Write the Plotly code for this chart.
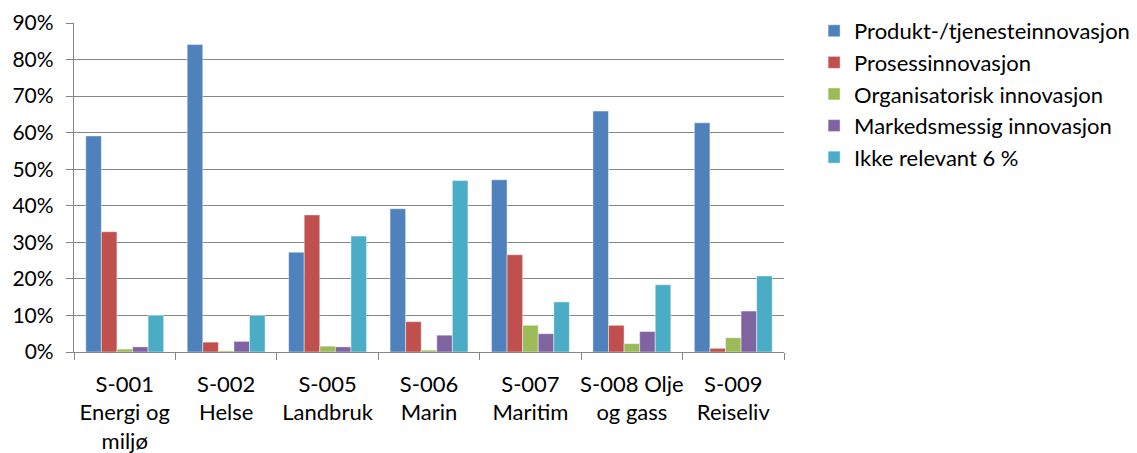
import plotly.graph_objects as go

categories = [
    "S-001<br>Energi og<br>miljø",
    "S-002<br>Helse",
    "S-005<br>Landbruk",
    "S-006<br>Marin",
    "S-007<br>Maritim",
    "S-008 Olje<br>og gass",
    "S-009<br>Reiseliv",
]

produkt = [0.591, 0.841, 0.273, 0.392, 0.471, 0.659, 0.627]
prosess = [0.329, 0.027, 0.375, 0.083, 0.266, 0.073, 0.010]
organisatorisk = [0.008, 0.003, 0.016, 0.005, 0.073, 0.023, 0.039]
markedsmessig = [0.014, 0.029, 0.014, 0.046, 0.050, 0.056, 0.112]
ikke_relevant = [0.100, 0.100, 0.317, 0.469, 0.137, 0.184, 0.208]

series = [
    ("Produkt-/tjenesteinnovasjon", produkt, "#4F81BD"),
    ("Prosessinnovasjon", prosess, "#C0504D"),
    ("Organisatorisk innovasjon", organisatorisk, "#9BBB59"),
    ("Markedsmessig innovasjon", markedsmessig, "#8064A2"),
    ("Ikke relevant 6 %", ikke_relevant, "#4BACC6"),
]

FONT = "Lato"
GRID = "#868686"

fig = go.Figure()
for i, (name, values, color) in enumerate(series):
    fig.add_trace(go.Bar(
        name=name,
        x=categories,
        y=values,
        marker=dict(color=color, line=dict(color="rgba(255,255,255,0.55)", width=0.8)),
        legendgroup=f"g{i}",
    ))

fig.update_layout(
    width=1137,
    height=453,
    margin=dict(l=74, r=353, t=23, b=101, autoexpand=False),
    paper_bgcolor="white",
    plot_bgcolor="white",
    barmode="group",
    bargap=0.232,
    bargroupgap=0,
    font=dict(family=FONT, size=21, color="#000000"),
    showlegend=True,
    legend=dict(
        xref="container", yref="container",
        x=0.716, y=0.978, xanchor="left", yanchor="top",
        font=dict(family=FONT, size=22, color="#000000"),
        tracegroupgap=0,
        bgcolor="rgba(0,0,0,0)",
    ),
    xaxis=dict(
        showgrid=False,
        showline=True,
        linecolor=GRID,
        linewidth=1.3,
        ticks="outside",
        tickson="boundaries",
        ticklen=7,
        tickwidth=1.3,
        tickcolor=GRID,
        tickangle=0,
        automargin=False,
        tickfont=dict(family=FONT, size=22),
        ticklabelstandoff=12,
        fixedrange=True,
    ),
    yaxis=dict(
        range=[0, 0.9],
        dtick=0.1,
        tickformat=".0%",
        showgrid=True,
        gridcolor=GRID,
        gridwidth=1.3,
        showline=True,
        linecolor=GRID,
        linewidth=1.3,
        ticks="outside",
        ticklen=7,
        tickwidth=1.3,
        tickcolor=GRID,
        automargin=False,
        tickfont=dict(family=FONT, size=21),
        ticklabelstandoff=8,
        zeroline=False,
        fixedrange=True,
    ),
)

fig.write_html("out.html")
